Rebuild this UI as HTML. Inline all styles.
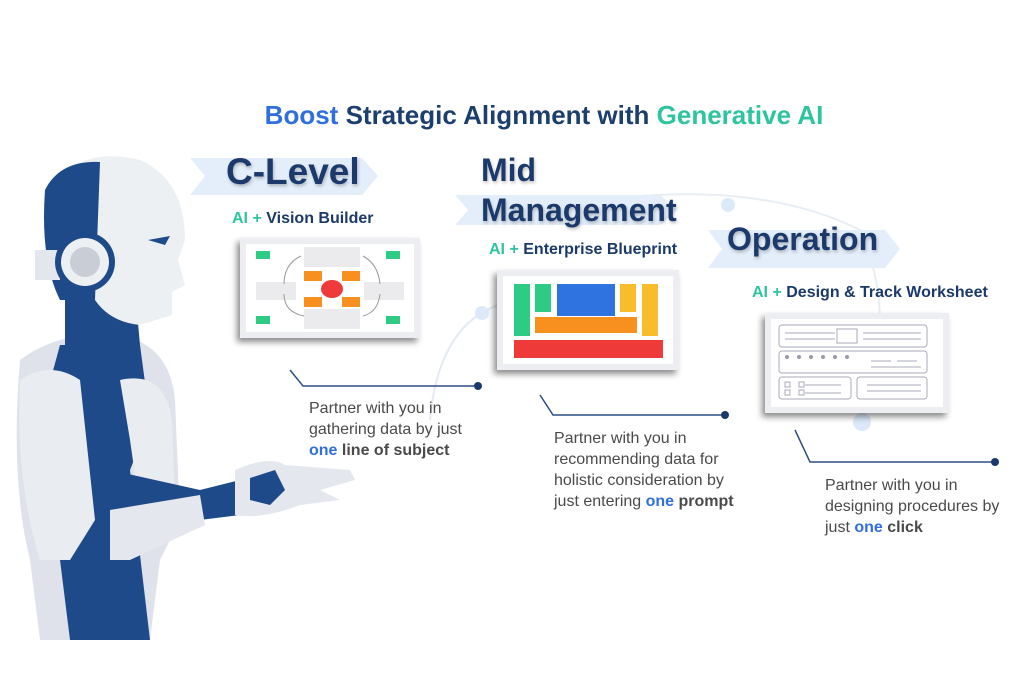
<!DOCTYPE html>
<html><head><meta charset="utf-8"><style>
body{margin:0;width:1024px;height:682px;background:#fff;overflow:hidden;position:relative;font-family:"Liberation Sans",sans-serif}
.a{position:absolute;white-space:nowrap}
.h{font-weight:bold;color:#1b3a6b;text-shadow:1px 2px 3px rgba(0,0,0,.25)}
.s{font-weight:bold;font-size:16px;color:#1b3a6b}
.s b{color:#2ec4a0}
.p{font-size:16px;line-height:21px;color:#4a4a4a}
.p b{color:#2f6fe0}
.p i{font-style:normal;font-weight:bold;color:#4a4a4a}
.card{position:absolute;background:#fff;border:6px solid #eceef2;box-shadow:-3px 4px 6px rgba(0,0,0,.45)}
</style></head><body>
<svg class="a" style="left:0;top:0" width="1024" height="682">
<path d="M430 420 Q440 310 520 300" stroke="#e4eaf2" fill="none" stroke-width="2"/>
<path d="M600 200 Q760 180 860 230 Q900 320 860 420" stroke="#e8edf4" fill="none" stroke-width="2"/>
<circle cx="482" cy="313" r="7" fill="#dbe9f8"/><circle cx="728" cy="205" r="7" fill="#dbe9f8"/><circle cx="862" cy="422" r="9" fill="#dbe9f8"/>
<polygon points="190,158 362,158 378,176 362,195 190,195 205,176" fill="#e4eefa"/>
<polygon points="455,195 660,195 678,210 660,225 455,225 468,210" fill="#e4eefa"/>
<polygon points="708,230 885,230 900,249 885,268 708,268 722,249" fill="#e4eefa"/>
<polyline points="290,370 303,386 478,386" fill="none" stroke="#2d4f86" stroke-width="1.5"/><circle cx="478" cy="386" r="4" fill="#1b3a6b"/>
<polyline points="540,395 553,415 725,415" fill="none" stroke="#2d4f86" stroke-width="1.5"/><circle cx="725" cy="415" r="4" fill="#1b3a6b"/>
<polyline points="795,430 810,462 995,462" fill="none" stroke="#2d4f86" stroke-width="1.5"/><circle cx="995" cy="462" r="4" fill="#1b3a6b"/>
<path d="M20 360 Q60 330 120 335 Q170 345 175 400 L180 520 L160 560 L150 640 L40 640 L30 560 Q10 480 20 360Z" fill="#dfe2ea"/>
<path d="M60 345 L140 345 L150 420 L130 470 L150 640 L70 640 L60 560 L40 480 L45 400Z" fill="#1f4a8a"/>
<path d="M20 380 Q50 360 80 380 L95 520 L70 560 L40 560 Q15 480 20 380Z" fill="#e9ecf0"/>
<path d="M120 380 Q165 370 172 420 L175 500 L140 510 L130 440Z" fill="#e9ecf0"/>
<path d="M65 290 L135 290 L140 345 L65 345Z" fill="#1f4a8a"/>
<path d="M45 190 Q80 145 140 160 Q185 180 185 240 L178 260 L185 285 L172 292 L172 315 L140 325 Q110 322 95 300 L60 300 Q40 260 45 190Z" fill="#edf0f2"/>
<path d="M45 190 Q60 160 100 162 L95 300 L60 300 Q40 260 45 190Z" fill="#1f4a8a"/>
<path d="M148 240 L170 236 L165 245Z" fill="#1f4a8a"/>
<rect x="35" y="250" width="25" height="30" fill="#e3e6ec"/>
<circle cx="85" cy="262" r="30" fill="#1f4a8a"/><circle cx="85" cy="262" r="24" fill="#edf0f2"/><circle cx="85" cy="262" r="15" fill="#c9cdd6"/>
<path d="M110 470 L200 490 L240 480 L240 515 L200 520 L140 540 L115 530Z" fill="#1f4a8a"/>
<path d="M110 510 L200 495 L205 525 L130 560 L110 560Z" fill="#e4e7ee"/>
<path d="M235 470 Q270 455 285 465 L350 470 L355 480 L320 490 L340 500 L300 505 Q260 520 235 515Z" fill="#e4e7ee"/>
<path d="M250 478 L275 470 L285 490 L270 505 L250 500Z" fill="#1f4a8a"/>
</svg>
<div class="a" style="left:0;top:100px;width:1088px;text-align:center;font-size:26px;font-weight:bold;color:#1d3f6e"><span style="color:#2f6fe0">Boost</span> Strategic Alignment with <span style="color:#2ec4a0">Generative AI</span></div>
<div class="a h" style="left:226px;top:151px;font-size:37px">C-Level</div>
<div class="a h" style="left:481px;top:152px;font-size:32px">Mid</div>
<div class="a h" style="left:481px;top:192px;font-size:32px">Management</div>
<div class="a h" style="left:727px;top:221px;font-size:32px">Operation</div>
<div class="a s" style="left:232px;top:210px"><b>AI +</b> Vision Builder</div>
<div class="a s" style="left:489px;top:241px"><b>AI +</b> Enterprise Blueprint</div>
<div class="a s" style="left:752px;top:284px"><b>AI +</b> Design &amp; Track Worksheet</div>
<div class="card" style="left:240px;top:238px;width:168px;height:88px">
<svg width="168" height="88"><rect x="10" y="7" width="14" height="8" fill="#2ecb85"/><rect x="140" y="7" width="14" height="8" fill="#2ecb85"/><rect x="10" y="72" width="14" height="8" fill="#2ecb85"/><rect x="140" y="72" width="14" height="8" fill="#2ecb85"/>
<rect x="58" y="3" width="56" height="20" fill="#ebebee"/><rect x="58" y="65" width="56" height="20" fill="#ebebee"/><rect x="10" y="38" width="40" height="18" fill="#ebebee"/><rect x="118" y="38" width="40" height="18" fill="#ebebee"/>
<rect x="58" y="27" width="18" height="10" fill="#f7901e"/><rect x="96" y="27" width="18" height="10" fill="#f7901e"/><rect x="58" y="53" width="18" height="10" fill="#f7901e"/><rect x="96" y="53" width="18" height="10" fill="#f7901e"/><ellipse cx="86" cy="45" rx="11" ry="9" fill="#ef3a3a"/>
<path d="M55 12 Q38 20 38 40 M38 50 Q38 68 58 72 M117 12 Q132 20 134 40 M134 50 Q132 68 117 72" stroke="#999" fill="none"/></svg></div>
<div class="card" style="left:497px;top:270px;width:170px;height:88px">
<svg width="170" height="88"><rect x="11" y="8" width="16" height="52" fill="#2ecb85"/><rect x="32" y="8" width="16" height="28" fill="#2ecb85"/><rect x="54" y="8" width="58" height="32" fill="#2f73e0"/><rect x="117" y="8" width="16" height="28" fill="#f9bc2c"/><rect x="139" y="8" width="16" height="52" fill="#f9bc2c"/><rect x="32" y="41" width="102" height="16" fill="#f7901e"/><rect x="11" y="64" width="149" height="18" fill="#ef3a3a"/></svg></div>
<div class="card" style="left:765px;top:313px;width:172px;height:88px">
<svg width="172" height="88" fill="none" stroke="#aab"><rect x="8" y="6" width="148" height="22" rx="3"/><rect x="66" y="10" width="20" height="14"/><rect x="8" y="32" width="148" height="22" rx="3"/><rect x="8" y="58" width="72" height="22" rx="3"/><rect x="86" y="58" width="70" height="22" rx="3"/>
<path d="M14 14h50M14 20h50M92 14h58M92 20h58M100 42h20M126 42h20M100 48h50M96 66h54M96 72h54M34 66h36M34 74h36"/>
<g fill="#99a" stroke="none"><circle cx="16" cy="38" r="2"/><circle cx="28" cy="38" r="2"/><circle cx="40" cy="38" r="2"/><circle cx="52" cy="38" r="2"/><circle cx="64" cy="38" r="2"/><circle cx="76" cy="38" r="2"/></g>
<rect x="14" y="63" width="5" height="5"/><rect x="14" y="71" width="5" height="5"/><rect x="28" y="63" width="5" height="5"/><rect x="28" y="71" width="5" height="5"/></svg></div>
<div class="a p" style="left:309px;top:398px">Partner with you in<br>gathering data by just<br><b>one</b> <i>line of subject</i></div>
<div class="a p" style="left:554px;top:428px">Partner with you in<br>recommending data for<br>holistic consideration by<br>just entering <b>one</b> <i>prompt</i></div>
<div class="a p" style="left:825px;top:475px">Partner with you in<br>designing procedures by<br>just <b>one</b> <i>click</i></div>
</body></html>
